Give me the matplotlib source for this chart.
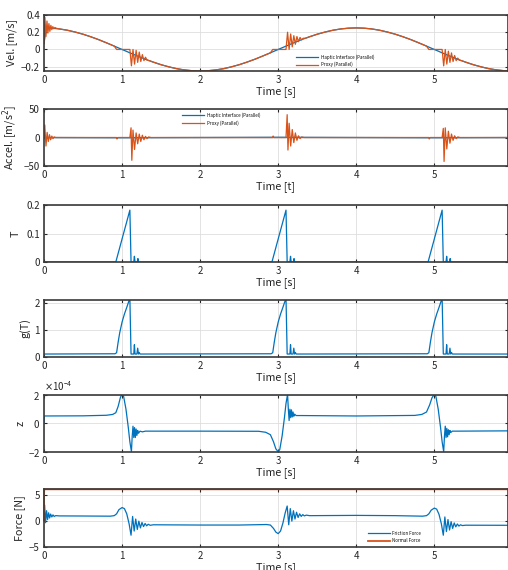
import numpy as np
import matplotlib
matplotlib.use("Agg")
import matplotlib.pyplot as plt

plt.rcParams['font.family'] = ['Noto Sans CJK JP', 'DejaVu Sans']
plt.rcParams['axes.unicode_minus'] = True

BLUE = '#0072BD'
ORANGE = '#D95319'

# ---------------- data ----------------
hap_vel = [(0, 0.07), (0.03, 0.25), (0.1, 0.247), (0.2, 0.238), (0.3, 0.223), (0.4, 0.202),
           (0.5, 0.177), (0.6, 0.147), (0.7, 0.114), (0.8, 0.077), (0.9, 0.039), (1.0, 0.0),
           (1.1, -0.039), (1.2, -0.077), (1.3, -0.114), (1.4, -0.147), (1.5, -0.177), (1.6, -0.202),
           (1.7, -0.223), (1.8, -0.238), (1.9, -0.247), (2.0, -0.25), (2.1, -0.247), (2.2, -0.238),
           (2.3, -0.223), (2.4, -0.202), (2.5, -0.177), (2.6, -0.147), (2.7, -0.114), (2.8, -0.077),
           (2.9, -0.039), (3.0, 0.0), (3.1, 0.039), (3.2, 0.077), (3.3, 0.114), (3.4, 0.147),
           (3.5, 0.177), (3.6, 0.202), (3.7, 0.223), (3.8, 0.238), (3.9, 0.247), (4.0, 0.25),
           (4.1, 0.247), (4.2, 0.238), (4.3, 0.223), (4.4, 0.202), (4.5, 0.177), (4.6, 0.147),
           (4.7, 0.114), (4.8, 0.077), (4.9, 0.039), (5.0, 0.0), (5.1, -0.039), (5.2, -0.077),
           (5.3, -0.114), (5.4, -0.147), (5.5, -0.177), (5.6, -0.202), (5.7, -0.223), (5.8, -0.238),
           (5.9, -0.247), (5.94, -0.249)]

prox_vel = [(0, 0.07), (0.012, 0.37), (0.025, 0.15), (0.038, 0.33), (0.05, 0.19), (0.063, 0.30),
            (0.075, 0.21), (0.088, 0.28), (0.1, 0.23), (0.113, 0.265), (0.125, 0.24), (0.14, 0.255),
            (0.16, 0.245), (0.2, 0.238), (0.3, 0.223), (0.4, 0.202), (0.5, 0.177), (0.6, 0.147),
            (0.7, 0.114), (0.8, 0.077), (0.9, 0.039), (0.93, 0.0), (1.1, 0.0),
            (1.12, -0.19), (1.14, 0.0), (1.16, -0.17), (1.18, -0.01), (1.2, -0.15), (1.22, -0.03),
            (1.24, -0.14), (1.26, -0.06), (1.28, -0.13), (1.3, -0.09), (1.32, -0.125), (1.35, -0.13),
            (1.4, -0.147), (1.5, -0.177), (1.6, -0.202), (1.7, -0.223), (1.8, -0.238),
            (1.9, -0.247), (2.0, -0.25), (2.1, -0.247), (2.2, -0.238), (2.3, -0.223), (2.4, -0.202),
            (2.5, -0.177), (2.6, -0.147), (2.7, -0.114), (2.8, -0.077), (2.9, -0.039), (2.93, 0.0),
            (3.1, 0.0), (3.12, 0.20), (3.14, 0.0), (3.16, 0.18), (3.18, 0.03), (3.2, 0.16),
            (3.22, 0.06), (3.24, 0.15), (3.26, 0.09), (3.28, 0.14), (3.3, 0.11), (3.32, 0.13),
            (3.35, 0.13), (3.4, 0.147), (3.5, 0.177), (3.6, 0.202), (3.7, 0.223),
            (3.8, 0.238), (3.9, 0.247), (4.0, 0.25), (4.1, 0.247), (4.2, 0.238), (4.3, 0.223),
            (4.4, 0.202), (4.5, 0.177), (4.6, 0.147), (4.7, 0.114), (4.8, 0.077), (4.9, 0.039),
            (4.93, 0.0), (5.1, 0.0), (5.12, -0.19), (5.14, 0.0), (5.16, -0.17), (5.18, -0.02),
            (5.2, -0.15), (5.22, -0.04), (5.24, -0.14), (5.26, -0.07), (5.28, -0.13), (5.3, -0.10),
            (5.32, -0.125), (5.35, -0.13), (5.4, -0.147), (5.5, -0.177), (5.6, -0.202),
            (5.7, -0.223), (5.8, -0.238), (5.9, -0.247), (5.94, -0.249)]

hap_acc = [(0, 0.0), (1.0, -0.39), (2.0, 0.0), (3.0, 0.39), (4.0, 0.0), (5.0, -0.39), (5.94, -0.04)]

prox_acc = [(0, 0), (0.01, 22), (0.025, -15), (0.04, 9), (0.055, -7), (0.07, 5), (0.085, -4),
            (0.1, 2.5), (0.115, -2), (0.13, 1), (0.15, 0), (0.93, 0), (0.935, -2.5), (0.945, 0),
            (1.1, 0), (1.115, 17), (1.125, -40), (1.14, 13), (1.16, -21), (1.18, 8), (1.2, -11),
            (1.22, 6), (1.24, -7), (1.26, 4), (1.28, -4), (1.3, 2), (1.32, -2), (1.34, 1),
            (1.37, 0), (2.93, 0), (2.935, 2.5), (2.945, 0), (3.1, 0), (3.115, 40), (3.125, -22),
            (3.14, 25), (3.16, -15), (3.18, 14), (3.2, -9), (3.22, 8), (3.24, -5), (3.26, 3),
            (3.28, -2), (3.3, 1), (3.33, 0), (4.93, 0), (4.935, -2.5), (4.945, 0), (5.1, 0),
            (5.115, 16), (5.125, -42), (5.14, 17), (5.16, -20), (5.18, 11), (5.2, -10),
            (5.22, 6), (5.24, -5), (5.26, 3), (5.28, -2), (5.3, 1), (5.33, 0), (5.94, 0)]

T_data = [(0, 0), (0.92, 0), (1.10, 0.182), (1.115, 0), (1.15, 0), (1.158, 0.02), (1.166, 0),
          (1.195, 0), (1.203, 0.012), (1.211, 0), (2.92, 0), (3.10, 0.182), (3.115, 0), (3.15, 0),
          (3.158, 0.02), (3.166, 0), (3.195, 0), (3.203, 0.012), (3.211, 0), (4.92, 0),
          (5.10, 0.182), (5.115, 0), (5.15, 0), (5.158, 0.02), (5.166, 0), (5.195, 0),
          (5.203, 0.012), (5.211, 0), (5.94, 0)]

gT_data = [(0, 0.1), (0.91, 0.11), (0.93, 0.15), (0.95, 0.55), (0.97, 0.9), (1.0, 1.3), (1.03, 1.6),
           (1.06, 1.85), (1.1, 2.2), (1.115, 0.1), (1.15, 0.1), (1.158, 0.45), (1.166, 0.1),
           (1.19, 0.1), (1.2, 0.32), (1.21, 0.1), (1.22, 0.16), (1.23, 0.1),
           (2.91, 0.11), (2.93, 0.15), (2.95, 0.55), (2.97, 0.9), (3.0, 1.3), (3.03, 1.6),
           (3.06, 1.85), (3.1, 2.2), (3.115, 0.1), (3.15, 0.1), (3.158, 0.45), (3.166, 0.1),
           (3.19, 0.1), (3.2, 0.32), (3.21, 0.1), (3.22, 0.16), (3.23, 0.1),
           (4.91, 0.11), (4.93, 0.15), (4.95, 0.55), (4.97, 0.9), (5.0, 1.3), (5.03, 1.6),
           (5.06, 1.85), (5.1, 2.2), (5.115, 0.1), (5.15, 0.1), (5.158, 0.45), (5.166, 0.1),
           (5.19, 0.1), (5.2, 0.32), (5.21, 0.1), (5.22, 0.16), (5.23, 0.1), (5.94, 0.1)]

z_scale = 1e-4
z_data = [(0, 0), (0.005, 0.52), (0.5, 0.53), (0.8, 0.57), (0.88, 0.63), (0.92, 0.75), (0.95, 1.2),
          (0.98, 1.85), (1.0, 2.05), (1.02, 1.9), (1.05, 1.0), (1.08, -0.3), (1.1, -1.3), (1.12, -2.0),
          (1.13, -0.9), (1.14, -0.2), (1.15, -1.0), (1.16, -0.3), (1.17, -1.0), (1.18, -0.4),
          (1.19, -0.85), (1.2, -0.5), (1.21, -0.7), (1.23, -0.55), (1.26, -0.6), (1.3, -0.55),
          (2.0, -0.55), (2.75, -0.56), (2.84, -0.63), (2.9, -0.8), (2.94, -1.3), (2.97, -1.8),
          (3.0, -2.0), (3.02, -1.85), (3.05, -0.9), (3.08, 0.4), (3.1, 1.4), (3.12, 2.05),
          (3.13, 1.0), (3.14, 0.2), (3.15, 1.0), (3.16, 0.4), (3.17, 0.95), (3.18, 0.45),
          (3.19, 0.8), (3.2, 0.5), (3.21, 0.65), (3.23, 0.55), (3.3, 0.55), (4.0, 0.52),
          (4.75, 0.56), (4.84, 0.63), (4.9, 0.8), (4.94, 1.3), (4.97, 1.8), (5.0, 2.05),
          (5.02, 1.9), (5.05, 1.0), (5.08, -0.3), (5.1, -1.3), (5.12, -2.0), (5.13, -0.9),
          (5.14, -0.2), (5.15, -1.0), (5.16, -0.35), (5.17, -0.95), (5.18, -0.45), (5.19, -0.8),
          (5.2, -0.5), (5.21, -0.65), (5.23, -0.55), (5.3, -0.55), (5.94, -0.53)]

friction = [(0, 0), (0.008, 3.0), (0.02, -0.4), (0.033, 1.9), (0.046, 0.2), (0.059, 1.5),
            (0.072, 0.5), (0.085, 1.25), (0.1, 0.7), (0.115, 1.1), (0.13, 0.8), (0.15, 0.95),
            (0.2, 0.9), (0.5, 0.88), (0.85, 0.85), (0.9, 0.95), (0.93, 1.3), (0.96, 2.1), (1.0, 2.5),
            (1.03, 2.3), (1.06, 1.3), (1.09, -0.6), (1.115, -2.8), (1.135, 0.8), (1.155, -2.0),
            (1.175, 0.3), (1.195, -1.7), (1.215, -0.1), (1.235, -1.4), (1.255, -0.35), (1.275, -1.15),
            (1.295, -0.55), (1.315, -1.0), (1.335, -0.7), (1.36, -0.9), (1.4, -0.8), (2.0, -0.85),
            (2.5, -0.85), (2.85, -0.75), (2.9, -0.85), (2.94, -1.5), (2.97, -2.2), (3.0, -2.5),
            (3.03, -2.0), (3.06, -0.5), (3.09, 1.5), (3.115, 2.8), (3.135, -0.8), (3.155, 2.3),
            (3.175, -0.1), (3.195, 1.9), (3.215, 0.3), (3.235, 1.6), (3.255, 0.6), (3.275, 1.3),
            (3.295, 0.8), (3.315, 1.15), (3.335, 0.9), (3.36, 1.05), (3.4, 0.95), (4.0, 1.0),
            (4.5, 0.95), (4.85, 0.85), (4.9, 0.95), (4.93, 1.3), (4.96, 2.0), (5.0, 2.4),
            (5.03, 2.2), (5.06, 1.2), (5.09, -0.6), (5.115, -2.8), (5.135, 0.7), (5.155, -2.1),
            (5.175, 0.2), (5.195, -1.8), (5.215, -0.2), (5.235, -1.5), (5.255, -0.45), (5.275, -1.2),
            (5.295, -0.65), (5.315, -1.05), (5.335, -0.8), (5.36, -0.95), (5.4, -0.88), (5.94, -0.9)]

normal = [(0, 0), (0.001, 6), (5.94, 6)]

x_ticks = [0, 1, 2, 3, 4, 5]
x_lim = (0, 5.94)

# ---------------- figure ----------------
W, H = 508, 570
fig = plt.figure(figsize=(W / 100, H / 100), dpi=100)

LEFT, RIGHT = 44, 507.7
panels_px = [(15, 71), (109, 166), (205, 262), (299.7, 356.7), (395, 451.7), (489.3, 546.7)]


def make_ax(top, bot):
    return fig.add_axes([LEFT / W, 1 - bot / H, (RIGHT - LEFT) / W, (bot - top) / H])


def style(ax, ylim, yticks, xlabel, ylabel, ylab_x, yticklabels=None):
    ax.set_xlim(*x_lim)
    ax.set_ylim(*ylim)
    ax.set_xticks(x_ticks)
    ax.set_yticks(yticks)
    if yticklabels is not None:
        ax.set_yticklabels(yticklabels)
    ax.grid(True, color='#dedede', linewidth=0.6)
    ax.set_axisbelow(True)
    for s in ax.spines.values():
        s.set_color('#3a3a3a')
        s.set_linewidth(1.2)
    ax.tick_params(direction='in', length=2.5, width=0.8, color='#262626',
                   labelsize=7, labelcolor='#262626', top=True, right=True, pad=3)
    ax.set_xlabel(xlabel, fontsize=7.8, color='#262626', labelpad=1)
    ax.set_ylabel(ylabel, fontsize=7.8, color='#262626')
    ax.yaxis.set_label_coords(ylab_x, 0.5)


def xy(data):
    a = np.array(data, dtype=float)
    return a[:, 0], a[:, 1]


# Panel 1: velocity
ax1 = make_ax(*panels_px[0])
t, v = xy(hap_vel)
ax1.plot(t, v, color=BLUE, lw=0.9, label='Haptic Interface (Parallel)')
t, v = xy(prox_vel)
ax1.plot(t, v, color=ORANGE, lw=0.9, label='Proxy (Parallel)')
style(ax1, (-0.25, 0.4), [-0.2, 0, 0.2, 0.4], 'Time [s]', 'Vel. [m/s]', -0.058,
      ['\u22120.2', '0', '0.2', '0.4'])
ax1.legend(loc='lower left', bbox_to_anchor=(0.535, 0.0), fontsize=3.2, frameon=False,
           handlelength=5, handletextpad=0.6, labelspacing=0.5, borderpad=0.3)

# Panel 2: acceleration
ax2 = make_ax(*panels_px[1])
t, v = xy(hap_acc)
ax2.plot(t, v, color=BLUE, lw=0.9, label='Haptic Interface (Parallel)')
t, v = xy(prox_acc)
ax2.plot(t, v, color=ORANGE, lw=0.9, label='Proxy (Parallel)')
style(ax2, (-50, 50), [-50, 0, 50], 'Time [t]', 'Accel. [m/s$^2$]', -0.052)
ax2.legend(loc='upper left', bbox_to_anchor=(0.29, 1.0), fontsize=3.2, frameon=False,
           handlelength=5, handletextpad=0.6, labelspacing=0.5, borderpad=0.3)

# Panel 3: T
ax3 = make_ax(*panels_px[2])
t, v = xy(T_data)
ax3.plot(t, v, color=BLUE, lw=0.9)
style(ax3, (0, 0.2), [0, 0.1, 0.2], 'Time [s]', 'T', -0.05, ['0', '0.1', '0.2'])

# Panel 4: g(T)
ax4 = make_ax(*panels_px[3])
t, v = xy(gT_data)
ax4.plot(t, v, color=BLUE, lw=0.9)
style(ax4, (0, 2.14), [0, 1, 2], 'Time [s]', 'g(T)', -0.03)

# Panel 5: z
ax5 = make_ax(*panels_px[4])
t, v = xy(z_data)
ax5.plot(t, v * z_scale, color=BLUE, lw=0.9)
style(ax5, (-2e-4, 2e-4), [-2e-4, 0, 2e-4], 'Time [s]', 'z', -0.039)
ax5.ticklabel_format(axis='y', style='sci', scilimits=(0, 0), useMathText=True)
ax5.yaxis.get_offset_text().set_fontsize(7)
ax5.yaxis.get_offset_text().set_color('#262626')

# Panel 6: force
ax6 = make_ax(*panels_px[5])
t, v = xy(friction)
ax6.plot(t, v, color=BLUE, lw=0.9, label='Friction Force')
t, v = xy(normal)
ax6.plot(t, v, color=ORANGE, lw=1.3, label='Normal Force', clip_on=False)
style(ax6, (-5, 6), [-5, 0, 5], 'Time [s]', 'Force [N]', -0.041)
ax6.legend(loc='lower left', bbox_to_anchor=(0.69, 0.0), fontsize=3.2, frameon=False,
           handlelength=5, handletextpad=0.6, labelspacing=0.5, borderpad=0.3)

fig.savefig('out.png', dpi=100)
